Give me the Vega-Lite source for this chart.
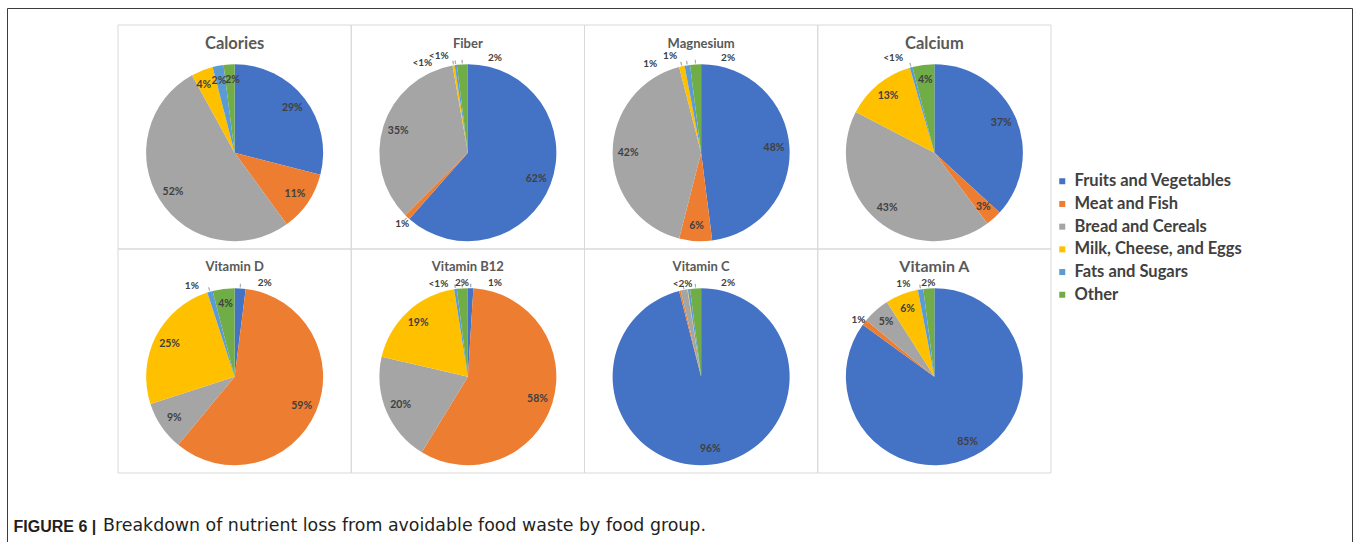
{
  "$schema": "https://vega.github.io/schema/vega-lite/v6.json",
  "autosize": {"type": "none"},
  "width": 1345,
  "height": 534,
  "padding": {"left": 7, "top": 8, "right": 8, "bottom": 0},
  "background": "#ffffff",
  "config": {
    "font": "Lato",
    "view": {"stroke": "#3c3c3c", "strokeWidth": 1}
  },
  "title": {
    "text": "Breakdown of nutrient loss from avoidable food waste by food group.",
    "orient": "bottom",
    "anchor": "start",
    "frame": "group",
    "baseline": "alphabetic",
    "offset": -11,
    "dx": 96,
    "font": "DejaVu Sans",
    "fontSize": 17.4,
    "fontWeight": "normal",
    "color": "#231f20"
  },
  "data": {
    "values": [
      {"nutrient": "Calories", "group": "Fruits and Vegetables", "value": 29, "label": "29%"},
      {"nutrient": "Calories", "group": "Meat and Fish", "value": 11, "label": "11%"},
      {"nutrient": "Calories", "group": "Bread and Cereals", "value": 52, "label": "52%"},
      {"nutrient": "Calories", "group": "Milk, Cheese, and Eggs", "value": 4, "label": "4%"},
      {"nutrient": "Calories", "group": "Fats and Sugars", "value": 2, "label": "2%"},
      {"nutrient": "Calories", "group": "Other", "value": 2, "label": "2%"},
      {"nutrient": "Fiber", "group": "Fruits and Vegetables", "value": 62, "label": "62%"},
      {"nutrient": "Fiber", "group": "Meat and Fish", "value": 1, "label": "1%"},
      {"nutrient": "Fiber", "group": "Bread and Cereals", "value": 35, "label": "35%"},
      {"nutrient": "Fiber", "group": "Milk, Cheese, and Eggs", "value": 0.4, "label": "<1%"},
      {"nutrient": "Fiber", "group": "Fats and Sugars", "value": 0.4, "label": "<1%"},
      {"nutrient": "Fiber", "group": "Other", "value": 2, "label": "2%"},
      {"nutrient": "Magnesium", "group": "Fruits and Vegetables", "value": 48, "label": "48%"},
      {"nutrient": "Magnesium", "group": "Meat and Fish", "value": 6, "label": "6%"},
      {"nutrient": "Magnesium", "group": "Bread and Cereals", "value": 42, "label": "42%"},
      {"nutrient": "Magnesium", "group": "Milk, Cheese, and Eggs", "value": 1, "label": "1%"},
      {"nutrient": "Magnesium", "group": "Fats and Sugars", "value": 1, "label": "1%"},
      {"nutrient": "Magnesium", "group": "Other", "value": 2, "label": "2%"},
      {"nutrient": "Calcium", "group": "Fruits and Vegetables", "value": 37, "label": "37%"},
      {"nutrient": "Calcium", "group": "Meat and Fish", "value": 3, "label": "3%"},
      {"nutrient": "Calcium", "group": "Bread and Cereals", "value": 43, "label": "43%"},
      {"nutrient": "Calcium", "group": "Milk, Cheese, and Eggs", "value": 13, "label": "13%"},
      {"nutrient": "Calcium", "group": "Fats and Sugars", "value": 0.5, "label": "<1%"},
      {"nutrient": "Calcium", "group": "Other", "value": 4, "label": "4%"},
      {"nutrient": "Vitamin D", "group": "Fruits and Vegetables", "value": 2, "label": "2%"},
      {"nutrient": "Vitamin D", "group": "Meat and Fish", "value": 59, "label": "59%"},
      {"nutrient": "Vitamin D", "group": "Bread and Cereals", "value": 9, "label": "9%"},
      {"nutrient": "Vitamin D", "group": "Milk, Cheese, and Eggs", "value": 25, "label": "25%"},
      {"nutrient": "Vitamin D", "group": "Fats and Sugars", "value": 1, "label": "1%"},
      {"nutrient": "Vitamin D", "group": "Other", "value": 4, "label": "4%"},
      {"nutrient": "Vitamin B12", "group": "Fruits and Vegetables", "value": 1, "label": "1%"},
      {"nutrient": "Vitamin B12", "group": "Meat and Fish", "value": 58, "label": "58%"},
      {"nutrient": "Vitamin B12", "group": "Bread and Cereals", "value": 20, "label": "20%"},
      {"nutrient": "Vitamin B12", "group": "Milk, Cheese, and Eggs", "value": 19, "label": "19%"},
      {"nutrient": "Vitamin B12", "group": "Fats and Sugars", "value": 0.5, "label": "<1%"},
      {"nutrient": "Vitamin B12", "group": "Other", "value": 2, "label": "2%"},
      {"nutrient": "Vitamin C", "group": "Fruits and Vegetables", "value": 96, "label": "96%"},
      {"nutrient": "Vitamin C", "group": "Meat and Fish", "value": 0.3, "label": ""},
      {"nutrient": "Vitamin C", "group": "Bread and Cereals", "value": 1.2, "label": "<2%"},
      {"nutrient": "Vitamin C", "group": "Milk, Cheese, and Eggs", "value": 0.1, "label": ""},
      {"nutrient": "Vitamin C", "group": "Fats and Sugars", "value": 0.4, "label": ""},
      {"nutrient": "Vitamin C", "group": "Other", "value": 2, "label": "2%"},
      {"nutrient": "Vitamin A", "group": "Fruits and Vegetables", "value": 85, "label": "85%"},
      {"nutrient": "Vitamin A", "group": "Meat and Fish", "value": 1, "label": "1%"},
      {"nutrient": "Vitamin A", "group": "Bread and Cereals", "value": 5, "label": "5%"},
      {"nutrient": "Vitamin A", "group": "Milk, Cheese, and Eggs", "value": 6, "label": "6%"},
      {"nutrient": "Vitamin A", "group": "Fats and Sugars", "value": 1, "label": "1%"},
      {"nutrient": "Vitamin A", "group": "Other", "value": 2, "label": "2%"}
    ]
  },
  "transform": [{"window": [{"op": "row_number", "as": "idx"}]}],
  "resolve": {"scale": {"x": "independent", "radius": "independent"}, "axis": {"x": "independent"}},
  "layer": [
    {
      "transform": [{"filter": {"field": "nutrient", "oneOf": ["Calories", "Fiber", "Magnesium", "Calcium"]}}],
      "encoding": {
        "x": {"field": "nutrient", "type": "nominal",
              "scale": {"type": "band", "domain": ["Calories", "Fiber", "Magnesium", "Calcium"], "range": [111, 1044], "paddingInner": 0, "paddingOuter": 0},
              "axis": {
                "orient": "bottom", "title": "FIGURE 6 |", "labels": false, "ticks": false, "domain": false, "grid": false,
                "titleFont": "Liberation Sans", "titleFontSize": 16, "titleFontWeight": "bold", "titleColor": "#231f20",
                "titleAnchor": "start", "titleAlign": "left", "titleBaseline": "alphabetic", "titleX": 6, "titleY": -11, "titlePadding": 0
              }}
      },
      "resolve": {"scale": {"radius": "independent"}},
      "layer": [
        {
          "transform": [{"aggregate": [{"op": "count", "as": "n"}], "groupby": ["nutrient"]}],
          "mark": {"type": "rect", "filled": false, "stroke": "#d9d9d9", "strokeWidth": 1},
          "encoding": {
            "y": {"datum": "upper", "type": "nominal", "axis": null,
                  "scale": {"type": "band", "domain": ["upper", "lower"], "range": [17, 465], "paddingInner": 0, "paddingOuter": 0}}
          }
        },
        {
          "mark": {"type": "arc"},
          "encoding": {
            "y": {"datum": "upper", "type": "nominal", "bandPosition": 0.57, "axis": null},
            "theta": {"field": "value", "type": "quantitative", "stack": "normalize"},
            "radius": {"field": "nutrient", "type": "nominal", "scale": {"type": "point", "range": [88.5, 88.5]}},
            "radius2": {"value": 0},
            "order": {"field": "idx", "type": "quantitative"},
            "color": {
              "field": "group", "type": "nominal",
              "scale": {
                "domain": ["Fruits and Vegetables", "Meat and Fish", "Bread and Cereals", "Milk, Cheese, and Eggs", "Fats and Sugars", "Other"],
                "range": ["#4472c4", "#ed7d31", "#a5a5a5", "#ffc000", "#5b9bd5", "#70ad47"]
              },
              "legend": {
                "orient": "none", "legendX": 1047, "legendY": 165, "title": null,
                "symbolType": "square", "symbolSize": 36, "symbolStrokeWidth": 0,
                "labelFont": "Lato", "labelFontSize": 16.5, "labelFontWeight": "bold",
                "labelColor": "#404040", "rowPadding": 5.7, "labelOffset": 4, "labelLimit": 300
              }
            }
          }
        },
        {
          "mark": {"type": "arc", "filled": false, "stroke": "#a6a6a6", "strokeWidth": 0.8, "padAngle": 1},
          "encoding": {
            "y": {"datum": "upper", "type": "nominal", "bandPosition": 0.57, "axis": null},
            "theta": {"field": "value", "type": "quantitative", "stack": "normalize"},
            "radius": {"field": "nutrient", "type": "nominal", "scale": {"type": "point", "range": [93, 93]}},
            "radius2": {"value": 89.5},
            "order": {"field": "idx", "type": "quantitative"},
            "detail": {"field": "group", "type": "nominal"},
            "strokeOpacity": {"condition": {"test": "datum.value < 3 && datum.nutrient !== 'Calories' && datum.label !== ''", "value": 1}, "value": 0}
          }
        },
        {
          "mark": {"type": "text", "font": "Lato", "fontWeight": "bold", "fontSize": 10.5, "color": "#404040",
                   "dx": {"expr": "datum.nutrient !== 'Calories' ? 0 : datum.group === 'Milk, Cheese, and Eggs' ? -4 : datum.group === 'Fats and Sugars' ? -2 : datum.group === 'Other' ? 2.5 : 0"}},
          "encoding": {
            "y": {"datum": "upper", "type": "nominal", "bandPosition": 0.57, "axis": null},
            "theta": {"field": "value", "type": "quantitative", "stack": "normalize"},
            "radius": {"field": "nutrient", "type": "nominal", "scale": {"type": "point", "range": [73, 73]}},
            "order": {"field": "idx", "type": "quantitative"},
            "detail": {"field": "group", "type": "nominal"},
            "text": {"condition": {"test": "datum.value >= 3 || datum.nutrient === 'Calories'", "field": "label"}, "value": ""}
          }
        },
        {
          "mark": {"type": "text", "font": "Lato", "fontWeight": "bold", "fontSize": 10, "color": "#404040",
                   "dx": {"expr": "datum.group === 'Other' ? (datum.nutrient === 'Vitamin B12' || datum.nutrient === 'Vitamin A' ? 0 : 33) : datum.group === 'Fats and Sugars' ? -16 : datum.group === 'Milk, Cheese, and Eggs' ? -30 : datum.group === 'Fruits and Vegetables' ? 24 : 0"},
                   "dy": {"expr": "datum.group === 'Milk, Cheese, and Eggs' ? 5 : datum.group === 'Fats and Sugars' ? -2 : 1"}},
          "encoding": {
            "y": {"datum": "upper", "type": "nominal", "bandPosition": 0.57, "axis": null},
            "theta": {"field": "value", "type": "quantitative", "stack": "normalize"},
            "radius": {"field": "nutrient", "type": "nominal", "scale": {"type": "point", "range": [96, 96]}},
            "order": {"field": "idx", "type": "quantitative"},
            "detail": {"field": "group", "type": "nominal"},
            "text": {"condition": {"test": "datum.value < 3 && datum.nutrient !== 'Calories'", "field": "label"}, "value": ""}
          }
        },
        {
          "transform": [{"aggregate": [{"op": "count", "as": "n"}], "groupby": ["nutrient"]}],
          "mark": {"type": "text", "font": "Lato", "fontWeight": "bold", "color": "#595959", "baseline": "middle", "dy": 19,
                   "fontSize": {"expr": "indexof(['Calories', 'Calcium', 'Vitamin A'], datum.nutrient) >= 0 ? 16.5 : 13"}},
          "encoding": {
            "y": {"datum": "upper", "type": "nominal", "bandPosition": 0, "axis": null},
            "text": {"field": "nutrient", "type": "nominal"}
          }
        }
      ]
    },
    {
      "transform": [{"filter": {"field": "nutrient", "oneOf": ["Vitamin D", "Vitamin B12", "Vitamin C", "Vitamin A"]}}],
      "encoding": {
        "x": {"field": "nutrient", "type": "nominal", "axis": null,
              "scale": {"type": "band", "domain": ["Vitamin D", "Vitamin B12", "Vitamin C", "Vitamin A"], "range": [111, 1044], "paddingInner": 0, "paddingOuter": 0}}
      },
      "resolve": {"scale": {"radius": "independent"}},
      "layer": [
        {
          "transform": [{"aggregate": [{"op": "count", "as": "n"}], "groupby": ["nutrient"]}],
          "mark": {"type": "rect", "filled": false, "stroke": "#d9d9d9", "strokeWidth": 1},
          "encoding": {
            "y": {"datum": "lower", "type": "nominal", "axis": null}
          }
        },
        {
          "mark": {"type": "arc"},
          "encoding": {
            "y": {"datum": "lower", "type": "nominal", "bandPosition": 0.57, "axis": null},
            "theta": {"field": "value", "type": "quantitative", "stack": "normalize"},
            "radius": {"field": "nutrient", "type": "nominal", "scale": {"type": "point", "range": [88.5, 88.5]}},
            "radius2": {"value": 0},
            "order": {"field": "idx", "type": "quantitative"},
            "color": {"field": "group", "type": "nominal"}
          }
        },
        {
          "mark": {"type": "arc", "filled": false, "stroke": "#a6a6a6", "strokeWidth": 0.8, "padAngle": 1},
          "encoding": {
            "y": {"datum": "lower", "type": "nominal", "bandPosition": 0.57, "axis": null},
            "theta": {"field": "value", "type": "quantitative", "stack": "normalize"},
            "radius": {"field": "nutrient", "type": "nominal", "scale": {"type": "point", "range": [93, 93]}},
            "radius2": {"value": 89.5},
            "order": {"field": "idx", "type": "quantitative"},
            "detail": {"field": "group", "type": "nominal"},
            "strokeOpacity": {"condition": {"test": "datum.value < 3 && datum.label !== ''", "value": 1}, "value": 0}
          }
        },
        {
          "mark": {"type": "text", "font": "Lato", "fontWeight": "bold", "fontSize": 10.5, "color": "#404040"},
          "encoding": {
            "y": {"datum": "lower", "type": "nominal", "bandPosition": 0.57, "axis": null},
            "theta": {"field": "value", "type": "quantitative", "stack": "normalize"},
            "radius": {"field": "nutrient", "type": "nominal", "scale": {"type": "point", "range": [73, 73]}},
            "order": {"field": "idx", "type": "quantitative"},
            "detail": {"field": "group", "type": "nominal"},
            "text": {"condition": {"test": "datum.value >= 3", "field": "label"}, "value": ""}
          }
        },
        {
          "mark": {"type": "text", "font": "Lato", "fontWeight": "bold", "fontSize": 10, "color": "#404040",
                   "dx": {"expr": "datum.group === 'Other' ? (datum.nutrient === 'Vitamin B12' || datum.nutrient === 'Vitamin A' ? 0 : 33) : datum.group === 'Fats and Sugars' ? -16 : datum.group === 'Milk, Cheese, and Eggs' ? -30 : datum.group === 'Fruits and Vegetables' ? 24 : 0"},
                   "dy": {"expr": "datum.group === 'Milk, Cheese, and Eggs' ? 5 : 2"}},
          "encoding": {
            "y": {"datum": "lower", "type": "nominal", "bandPosition": 0.57, "axis": null},
            "theta": {"field": "value", "type": "quantitative", "stack": "normalize"},
            "radius": {"field": "nutrient", "type": "nominal", "scale": {"type": "point", "range": [96, 96]}},
            "order": {"field": "idx", "type": "quantitative"},
            "detail": {"field": "group", "type": "nominal"},
            "text": {"condition": {"test": "datum.value < 3", "field": "label"}, "value": ""}
          }
        },
        {
          "transform": [{"aggregate": [{"op": "count", "as": "n"}], "groupby": ["nutrient"]}],
          "mark": {"type": "text", "font": "Lato", "fontWeight": "bold", "color": "#595959", "baseline": "middle", "dy": 18,
                   "fontSize": {"expr": "indexof(['Calories', 'Calcium', 'Vitamin A'], datum.nutrient) >= 0 ? 16 : 13"}},
          "encoding": {
            "y": {"datum": "lower", "type": "nominal", "bandPosition": 0, "axis": null},
            "text": {"field": "nutrient", "type": "nominal"}
          }
        }
      ]
    }
  ]
}
